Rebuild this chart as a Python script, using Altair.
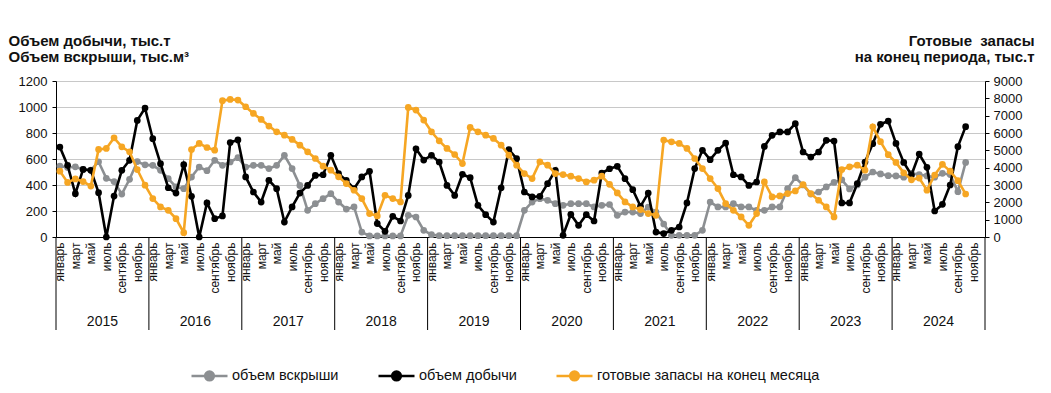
import altair as alt
import pandas as pd

FONT = "Liberation Sans"

month_names = ["январь", "февраль", "март", "апрель", "май", "июнь",
               "июль", "август", "сентябрь", "октябрь", "ноябрь", "декабрь"]
years = [2015, 2016, 2017, 2018, 2019, 2020, 2021, 2022, 2023, 2024]

series_names = ["объем вскрыши", "объем добычи", "готовые запасы на конец месяца"]
series_colors = ["#8c8f92", "#000000", "#f6a623"]

# объем вскрыши, тыс.м3 (left axis)
overburden = [
    546, 535, 540, 520, 515, 579, 451, 426, 330, 444, 580, 555,
    551, 513, 449, 385, 372, 461, 538, 510, 590, 551, 577, 610,
    538, 551, 551, 526, 551, 628, 526, 397, 205, 256, 295, 333,
    269, 215, 231, 38, 8, 8, 8, 8, 8, 167, 154, 51,
    18, 10, 10, 10, 10, 10, 10, 10, 10, 10, 10, 10,
    205, 269, 295, 282, 256, 244, 256, 256, 256, 231, 244, 250,
    167, 192, 192, 180, 230, 192, 100, 13, 13, 13, 13, 51,
    269, 231, 231, 256, 231, 231, 205, 205, 231, 231, 372, 456,
    400, 330, 346, 385, 420, 440, 370, 400, 460, 500, 485, 472,
    470, 460, 490, 480, 470, 460, 490, 480, 349, 574,
]

# объем добычи, тыс.т (left axis)
production = [
    692, 551, 333, 520, 513, 341, 0, 315, 513, 590, 897, 992,
    756, 564, 379, 338, 556, 313, 0, 262, 141, 162, 727, 747,
    462, 346, 269, 436, 372, 115, 231, 338, 397, 474, 479, 628,
    487, 436, 372, 462, 505, 103, 44, 159, 123, 320, 679, 592,
    628, 577, 397, 320, 482, 456, 244, 172, 115, 379, 672, 603,
    346, 308, 313, 410, 513, 13, 174, 90, 172, 123, 492, 525,
    544, 449, 364, 236, 338, 38, 26, 51, 77, 262, 526, 667,
    595, 667, 723, 479, 462, 397, 423, 697, 782, 808, 808, 872,
    654, 615, 654, 744, 738, 262, 262, 410, 577, 718, 867, 892,
    720, 574, 477, 638, 536, 200, 251, 400, 695, 849,
]

# готовые запасы на конец месяца, тыс.т (right axis)
stocks = [
    3800, 3150, 3350, 3200, 2940, 5050, 5110, 5720, 5203, 4914, 3892, 2987,
    2216, 1734, 1542, 1060, 250, 5049, 5396, 5164, 5010, 7862, 7939, 7900,
    7515, 7130, 6783, 6398, 6070, 5877, 5627, 5300, 4914, 4528, 4085, 3854,
    3469, 3083, 2698, 2216, 1349, 1214, 2409, 2216, 2023, 7477, 7323, 6745,
    6070, 5550, 5107, 4760, 4239, 6321, 6070, 5877, 5685, 5300, 4721, 4143,
    3661, 3372, 4336, 4143, 3661, 3603, 3507, 3372, 3180, 3276, 3507, 3040,
    2544, 2023, 1734, 1580, 1349, 1253, 5589, 5492, 5396, 5107, 4528, 3950,
    3372, 2794, 1927, 1542, 1156, 674, 1349, 3180, 2312, 2370, 2505, 2659,
    3030, 2505, 2120, 1734, 1156, 3893, 4046, 4143, 3854, 6359, 5500, 4750,
    4300, 3700, 3300, 3400, 2700, 3577, 4192, 3800, 3250, 2480,
]

n_slots = len(years) * 12


def series_df(values, name):
    return pd.DataFrame({
        "x": [i + 0.5 for i in range(len(values))],
        "value": values,
        "series": name,
    })


df_over = series_df(overburden, series_names[0])
df_prod = series_df(production, series_names[1])
df_stock = series_df(stocks, series_names[2])

df_sep = pd.DataFrame({"x": [12 * k for k in range(len(years) + 1)]})
df_years = pd.DataFrame({"x": [12 * k + 6 for k in range(len(years))],
                         "year": [str(y) for y in years]})

W, H = 929, 156

month_expr = "[" + ",".join(
    "'" + (m if k % 2 == 0 else "") + "'" for k, m in enumerate(month_names)
) + "][floor(datum.value) % 12]"

x_axis = alt.Axis(
    values=[i + 0.5 for i in range(n_slots) if (i % 12) % 2 == 0],
    labelExpr=month_expr,
    labelAngle=270, labelAlign="right", labelBaseline="middle",
    labelPadding=5, labelFontSize=12, labelFont=FONT, labelColor="#111111",
    labelOverlap=False, labelFlush=False, labelBound=False,
    ticks=False, grid=False, domainColor="black", domainWidth=1, title=None,
)
x_scale = alt.Scale(domain=[0, n_slots], nice=False, zero=False)


def X(field="x:Q"):
    return alt.X(field, scale=x_scale, axis=x_axis)


symbol_path = ("M-1,0L1,0M0.24,0A0.24,0.24,0,1,1,-0.24,0"
               "A0.24,0.24,0,1,1,0.24,0Z")
color = alt.Color(
    "series:N",
    scale=alt.Scale(domain=series_names, range=series_colors),
    sort=series_names,
    legend=alt.Legend(
        orient="none", legendX=134, legendY=275, direction="horizontal",
        title=None, symbolType=symbol_path, symbolSize=1296,
        symbolStrokeWidth=2.6, labelFontSize=14.5, labelFont=FONT,
        labelColor="#111111", columnPadding=34, labelOffset=3, labelLimit=0,
    ),
)

TITLE_SIZE = 15

left_axis = alt.Axis(
    values=list(range(0, 1201, 200)), format="d",
    grid=True, gridColor="#c8c8c8", gridWidth=1,
    domainColor="black", tickColor="black", tickSize=4,
    labelPadding=5, labelFontSize=13, labelFont=FONT, labelColor="#111111",
    title=["Объем добычи, тыс.т", "Объем вскрыши, тыс.м³"],
    titleAngle=0, titleAlign="left", titleBaseline="top",
    titleX=-48, titleY=-48, titleFontSize=TITLE_SIZE, titleFontWeight="bold",
    titleFont=FONT, titleColor="#111111", titleLineHeight=16,
)
right_axis = alt.Axis(
    values=list(range(0, 9001, 1000)), format="d", grid=False,
    domainColor="black", tickColor="black", tickSize=4,
    labelPadding=4, labelFontSize=13, labelFont=FONT, labelColor="#111111",
    title=["Готовые\u00a0 запасы", "на конец периода, тыс.т"],
    titleAngle=0, titleAlign="right", titleBaseline="top",
    titleX=49, titleY=-48, titleFontSize=TITLE_SIZE, titleFontWeight="bold",
    titleFont=FONT, titleColor="#111111", titleLineHeight=16,
)

y_left = alt.Y("value:Q", scale=alt.Scale(domain=[0, 1200], nice=False),
               axis=left_axis)
y_right = alt.Y("value:Q", scale=alt.Scale(domain=[0, 9000], nice=False),
                axis=right_axis)

point_def = alt.OverlayMarkDef(filled=True, size=45, opacity=1)


def line_layer(df, y):
    return alt.Chart(df).mark_line(strokeWidth=2.6, point=point_def).encode(
        x=X(), y=y, color=color
    )


left = alt.layer(line_layer(df_over, y_left), line_layer(df_prod, y_left))
right = line_layer(df_stock, y_right)

seps = alt.Chart(df_sep).mark_rule(color="black", strokeWidth=1).encode(
    x=X(), y=alt.value(H), y2=alt.value(H + 93)
)
year_text = alt.Chart(df_years).mark_text(
    fontSize=14, font=FONT, color="#111111", baseline="middle"
).encode(x=X(), y=alt.value(H + 85), text="year:N")

chart = alt.layer(left, right, seps, year_text).resolve_scale(
    y="independent"
).properties(
    width=W, height=H,
    autosize=alt.AutoSizeParams(type="none"),
    padding={"left": 48, "top": 73, "right": 58, "bottom": 148},
).configure_view(stroke=None).configure(background="white")

chart.save("out.html", embed_options={"renderer": "svg", "actions": False})
